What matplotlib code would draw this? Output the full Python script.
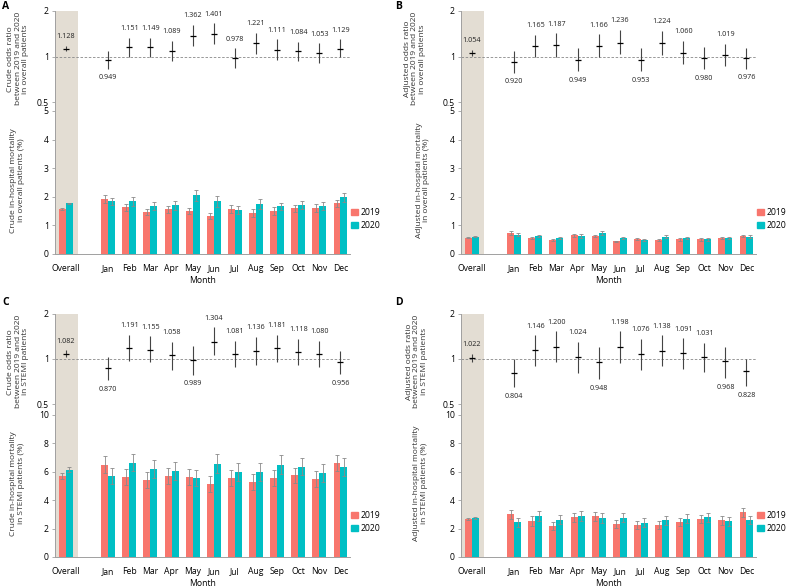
import numpy as np
import matplotlib
matplotlib.use("Agg")
import matplotlib.pyplot as plt
from matplotlib.patches import Patch

plt.rcParams['font.family'] = ['Open Sans', 'DejaVu Sans']

categories = ["Overall", "Jan", "Feb", "Mar", "Apr", "May", "Jun",
              "Jul", "Aug", "Sep", "Oct", "Nov", "Dec"]

# ---------------- Panel A: crude, overall patients ----------------
A_or = [1.128, 0.949, 1.151, 1.149, 1.089, 1.362, 1.401, 0.978, 1.221, 1.111, 1.084, 1.053, 1.129]
A_lo = [1.08, 0.83, 1.00, 1.00, 0.94, 1.18, 1.21, 0.84, 1.04, 0.95, 0.94, 0.91, 1.00]
A_hi = [1.18, 1.09, 1.33, 1.33, 1.27, 1.62, 1.66, 1.13, 1.44, 1.30, 1.25, 1.22, 1.30]
A_m19 = [1.58, 1.93, 1.63, 1.47, 1.57, 1.50, 1.32, 1.57, 1.43, 1.50, 1.60, 1.61, 1.77]
A_e19 = [0.03, 0.15, 0.13, 0.12, 0.12, 0.11, 0.11, 0.13, 0.13, 0.13, 0.12, 0.13, 0.12]
A_m20 = [1.77, 1.84, 1.85, 1.69, 1.70, 2.05, 1.84, 1.54, 1.75, 1.67, 1.71, 1.68, 1.98]
A_e20 = [0.03, 0.13, 0.16, 0.14, 0.15, 0.18, 0.18, 0.13, 0.16, 0.13, 0.13, 0.13, 0.15]

# ---------------- Panel B: adjusted, overall patients ----------------
B_or = [1.054, 0.920, 1.165, 1.187, 0.949, 1.166, 1.236, 0.953, 1.224, 1.060, 0.980, 1.019, 0.976]
B_lo = [1.015, 0.78, 0.99, 1.00, 0.80, 0.985, 1.036, 0.80, 1.025, 0.89, 0.825, 0.86, 0.83]
B_hi = [1.105, 1.08, 1.39, 1.425, 1.135, 1.40, 1.50, 1.135, 1.476, 1.268, 1.164, 1.212, 1.135]
B_m19 = [0.57, 0.73, 0.55, 0.48, 0.66, 0.64, 0.44, 0.52, 0.49, 0.52, 0.52, 0.56, 0.63]
B_e19 = [0.02, 0.06, 0.04, 0.04, 0.05, 0.04, 0.03, 0.04, 0.05, 0.05, 0.05, 0.05, 0.05]
B_m20 = [0.60, 0.68, 0.63, 0.56, 0.63, 0.75, 0.55, 0.49, 0.61, 0.56, 0.52, 0.56, 0.61]
B_e20 = [0.02, 0.06, 0.05, 0.05, 0.06, 0.07, 0.04, 0.05, 0.05, 0.05, 0.05, 0.05, 0.04]

# ---------------- Panel C: crude, STEMI patients ----------------
C_or = [1.082, 0.870, 1.191, 1.155, 1.058, 0.989, 1.304, 1.081, 1.136, 1.181, 1.118, 1.080, 0.956]
C_lo = [1.026, 0.72, 0.975, 0.95, 0.85, 0.786, 1.058, 0.88, 0.916, 0.96, 0.916, 0.88, 0.794]
C_hi = [1.143, 1.031, 1.455, 1.42, 1.30, 1.215, 1.629, 1.326, 1.404, 1.455, 1.36, 1.326, 1.137]
C_m19 = [5.71, 6.49, 5.62, 5.43, 5.71, 5.62, 5.13, 5.55, 5.29, 5.55, 5.74, 5.50, 6.63]
C_e19 = [0.19, 0.59, 0.56, 0.56, 0.56, 0.56, 0.56, 0.56, 0.55, 0.56, 0.55, 0.57, 0.58]
C_m20 = [6.16, 5.71, 6.65, 6.18, 6.07, 5.57, 6.58, 5.97, 5.97, 6.49, 6.37, 5.92, 6.35]
C_e20 = [0.20, 0.55, 0.62, 0.64, 0.64, 0.56, 0.66, 0.63, 0.63, 0.67, 0.62, 0.63, 0.62]

# ---------------- Panel D: adjusted, STEMI patients ----------------
D_or = [1.022, 0.804, 1.146, 1.200, 1.024, 0.948, 1.198, 1.076, 1.138, 1.091, 1.031, 0.968, 0.828]
D_lo = [0.96, 0.645, 0.902, 0.95, 0.806, 0.735, 0.94, 0.84, 0.893, 0.857, 0.814, 0.746, 0.656]
D_hi = [1.086, 1.0, 1.44, 1.53, 1.30, 1.197, 1.53, 1.36, 1.44, 1.38, 1.28, 1.203, 1.0]
D_m19 = [2.67, 3.00, 2.53, 2.20, 2.79, 2.86, 2.32, 2.25, 2.25, 2.48, 2.69, 2.58, 3.14]
D_e19 = [0.08, 0.33, 0.33, 0.28, 0.30, 0.30, 0.28, 0.28, 0.28, 0.30, 0.30, 0.30, 0.33]
D_m20 = [2.74, 2.44, 2.90, 2.62, 2.86, 2.72, 2.76, 2.41, 2.58, 2.69, 2.79, 2.51, 2.60]
D_e20 = [0.08, 0.30, 0.35, 0.33, 0.35, 0.35, 0.32, 0.32, 0.30, 0.33, 0.30, 0.30, 0.30]

or_labels = ["Crude odds ratio\nbetween 2019 and 2020\nin overall patients",
             "Adjusted odds ratio\nbetween 2019 and 2020\nin overall patients",
             "Crude odds ratio\nbetween 2019 and 2020\nin STEMI patients",
             "Adjusted odds ratio\nbetween 2019 and 2020\nin STEMI patients"]
bar_labels = ["Crude in-hospital mortality\nin overall patients (%)",
              "Adjusted in-hospital mortality\nin overall patients (%)",
              "Crude in-hospital mortality\nin STEMI patients (%)",
              "Adjusted in-hospital mortality\nin STEMI patients (%)"]
panel_letters = ["A", "B", "C", "D"]
label_above_exceptions = [["Jul"], [], [], []]

panels = [
    (A_or, A_lo, A_hi, A_m19, A_e19, A_m20, A_e20, 5, [0, 1, 2, 3, 4, 5]),
    (B_or, B_lo, B_hi, B_m19, B_e19, B_m20, B_e20, 5, [0, 1, 2, 3, 4, 5]),
    (C_or, C_lo, C_hi, C_m19, C_e19, C_m20, C_e20, 10, [0, 2, 4, 6, 8, 10]),
    (D_or, D_lo, D_hi, D_m19, D_e19, D_m20, D_e20, 10, [0, 2, 4, 6, 8, 10]),
]

C19 = "#F8766D"
C20 = "#00BFC4"
SHADE = "#E3DDD3"
SPINE = "#A0A0A0"

W, H = 786, 588
fig = plt.figure(figsize=(W / 100, H / 100), dpi=100)

x = np.r_[0, np.arange(2, 14)].astype(float)
xlim = (-0.52, 13.45)
bw = 0.33

# layout in pixels
lefts = [55, 461, 55, 461]
tops = [11, 11, 314, 314]
splits = [106.5, 106.5, 409.5, 409.5]
gaps = [4.5, 4.5, 5.5, 5.5]
bottoms = [254, 254, 557, 557]
axw = 295
or_lab_x = [-0.088, -0.119, -0.088, -0.112]
bar_lab_x = [-0.102, -0.105, -0.102, -0.112]
letter_pos = [(2, 1), (395, 1), (2, 297), (395, 297)]

for i, (orv, lo, hi, m19, e19, m20, e20, ymax, yt) in enumerate(panels):
    L = lefts[i]
    ax_or = fig.add_axes([L / W, 1 - splits[i] / H, axw / W, (splits[i] - tops[i]) / H])
    ax_b = fig.add_axes([L / W, 1 - bottoms[i] / H, axw / W, (bottoms[i] - splits[i]) / H])

    # --- odds ratio axes ---
    ax_or.set_yscale('log')
    or_px = splits[i] - tops[i]
    per2 = (or_px - gaps[i]) / 2.0
    ybot = 0.5 * 2 ** (-gaps[i] / per2)
    ax_or.set_ylim(ybot, 2)
    ax_or.set_xlim(*xlim)
    ax_or.axvspan(xlim[0], 0.55, color=SHADE, lw=0, zorder=0)
    ax_or.axhline(1, ls=(0, (3, 2)), color='#888888', lw=0.6, zorder=1)
    ax_or.vlines(x, lo, hi, color='#444444', lw=0.8, zorder=3)
    ax_or.plot(x, orv, ls='none', marker='_', ms=4.5, mew=0.9, color='black', zorder=4)
    for j, c in enumerate(categories):
        above = (orv[j] >= 1) or (c in label_above_exceptions[i])
        if above:
            ax_or.annotate(f"{orv[j]:.3f}", (x[j], hi[j]), xytext=(0, 4),
                           textcoords='offset points', ha='center', va='bottom',
                           fontsize=5.2, color='#222222')
        else:
            ax_or.annotate(f"{orv[j]:.3f}", (x[j], lo[j]), xytext=(0, -4),
                           textcoords='offset points', ha='center', va='top',
                           fontsize=5.2, color='#222222')
    ax_or.set_yticks([0.5, 1, 2])
    ax_or.set_yticklabels(["0.5", "1", "2"])
    ax_or.yaxis.set_minor_locator(matplotlib.ticker.NullLocator())
    ax_or.set_xticks([])
    for s in ['top', 'right', 'bottom']:
        ax_or.spines[s].set_visible(False)
    ax_or.spines['left'].set_color(SPINE)
    ax_or.spines['left'].set_linewidth(0.7)
    ax_or.tick_params(axis='y', labelsize=6.2, length=2.5, width=0.6, color=SPINE, pad=2)
    ax_or.set_ylabel(or_labels[i], fontsize=6, color='#333333', linespacing=1.1)
    ax_or.yaxis.set_label_coords(or_lab_x[i], 0.5)
    ax_or.patch.set_alpha(0)

    # --- mortality bar axes ---
    ppu = (bottoms[i] - splits[i] - gaps[i]) / ymax
    ytop = ymax + gaps[i] / ppu
    ax_b.set_ylim(0, ytop)
    ax_b.set_xlim(*xlim)
    ax_b.axvspan(xlim[0], 0.55, color=SHADE, lw=0, zorder=0)
    ekw = dict(ecolor='#8a8a8a', elinewidth=0.6, capsize=1.2, capthick=0.6)
    ax_b.bar(x - bw / 2, m19, bw, yerr=e19, color=C19, error_kw=ekw, zorder=2)
    ax_b.bar(x + bw / 2, m20, bw, yerr=e20, color=C20, error_kw=ekw, zorder=2)
    ax_b.set_yticks(yt)
    ax_b.set_xticks(x)
    ax_b.set_xticklabels(categories)
    for s in ['top', 'right']:
        ax_b.spines[s].set_visible(False)
    for s in ['left', 'bottom']:
        ax_b.spines[s].set_color(SPINE)
        ax_b.spines[s].set_linewidth(0.7)
    ax_b.tick_params(axis='y', labelsize=6.2, length=2.5, width=0.6, color=SPINE, pad=2)
    ax_b.tick_params(axis='x', labelsize=6.2, length=0, pad=7)
    ax_b.set_xlabel("Month", fontsize=6.2, labelpad=2.5)
    ax_b.set_ylabel(bar_labels[i], fontsize=6, color='#333333', linespacing=1.1)
    ax_b.yaxis.set_label_coords(bar_lab_x[i], 0.5)
    ax_b.patch.set_alpha(0)
    handles = [Patch(color=C19, label="2019"), Patch(color=C20, label="2020")]
    ax_b.legend(handles=handles, loc='center left', bbox_to_anchor=(1.005, 0.235),
                frameon=False, fontsize=6.2, handlelength=0.7, handleheight=0.7,
                handletextpad=0.4, labelspacing=0.45, borderaxespad=0, borderpad=0)

    lx, ly = letter_pos[i]
    fig.text(lx / W, 1 - ly / H, panel_letters[i], fontsize=7.5, fontweight='bold',
             ha='left', va='top')

fig.savefig("out.png", dpi=100)
